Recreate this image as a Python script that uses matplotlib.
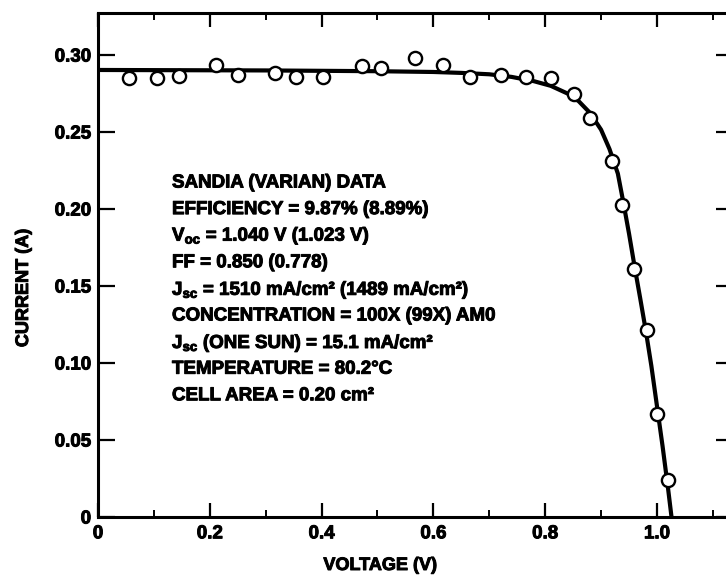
import matplotlib
matplotlib.use("Agg")
import matplotlib.pyplot as plt
import matplotlib.patheffects as pe
from matplotlib.ticker import MultipleLocator

plt.rcParams['font.family'] = ['Liberation Sans', 'DejaVu Sans']
plt.rcParams['font.weight'] = 'bold'
plt.rcParams['mathtext.fontset'] = 'custom'
plt.rcParams['mathtext.rm'] = 'Liberation Sans:bold'
plt.rcParams['mathtext.bf'] = 'Liberation Sans:bold'
plt.rcParams['mathtext.it'] = 'Liberation Sans:bold'
plt.rcParams['mathtext.default'] = 'bf'

# measured data points (voltage V, current A)
meas_v = [0.056, 0.105, 0.145, 0.211, 0.251, 0.317, 0.354, 0.403, 0.472, 0.506,
          0.567, 0.618, 0.665, 0.721, 0.766, 0.810, 0.852, 0.881, 0.919, 0.938,
          0.958, 0.983, 1.000, 1.019]
meas_i = [0.2853, 0.2854, 0.2866, 0.2934, 0.2873, 0.2881, 0.2858, 0.2857, 0.2930, 0.2919,
          0.2981, 0.2936, 0.2860, 0.2870, 0.2860, 0.2854, 0.2745, 0.2589, 0.2314, 0.2028,
          0.1612, 0.1215, 0.0670, 0.0240]

# fitted curve
fit_v = [0.0, 0.3, 0.5, 0.6, 0.65, 0.70, 0.74, 0.78, 0.81, 0.84, 0.86, 0.88, 0.90,
         0.915, 0.93, 0.94, 0.95, 0.96, 0.97, 0.98, 0.99, 1.00, 1.01, 1.02, 1.026]
fit_i = [0.2903, 0.2900, 0.2895, 0.2890, 0.2884, 0.2875, 0.2858, 0.2830, 0.2800, 0.2750,
         0.2700, 0.2625, 0.2515, 0.2390, 0.2230, 0.2040, 0.1840, 0.1625, 0.1420, 0.1210,
         0.0980, 0.0720, 0.0460, 0.0180, 0.0]

x_ticks = [0, 0.2, 0.4, 0.6, 0.8, 1.0]
x_tick_labels = ["0", "0.2", "0.4", "0.6", "0.8", "1.0"]
y_ticks = [0, 0.05, 0.10, 0.15, 0.20, 0.25, 0.30]
y_tick_labels = ["0", "0.05", "0.10", "0.15", "0.20", "0.25", "0.30"]

info_lines = [
    "SANDIA (VARIAN) DATA",
    "EFFICIENCY = 9.87% (8.89%)",
    "V$_{oc}$ = 1.040 V (1.023 V)",
    "FF = 0.850 (0.778)",
    "J$_{sc}$ = 1510 mA/cm² (1489 mA/cm²)",
    "CONCENTRATION = 100X (99X) AM0",
    "J$_{sc}$ (ONE SUN) = 15.1 mA/cm²",
    "TEMPERATURE = 80.2°C",
    "CELL AREA = 0.20 cm²",
]

heavy = [pe.withStroke(linewidth=0.7, foreground='black')]

W, H = 726, 582
fig = plt.figure(figsize=(W / 100, H / 100), dpi=100)
ax = fig.add_axes([98 / W, (H - 517) / H, (733 - 98) / W, (517 - 13) / H])

ax.plot(fit_v, fit_i, color='black', lw=3.0, solid_capstyle='butt', zorder=2)
ax.plot(meas_v, meas_i, linestyle='none', marker='o', ms=9.5, mfc='white',
        mec='black', mew=1.7, zorder=3)

ax.set_xlim(0, 1.136)
ax.set_ylim(0, 0.3273)

ax.xaxis.set_minor_locator(MultipleLocator(0.1))
ax.set_xticks(x_ticks)
ax.set_xticklabels(x_tick_labels)
ax.set_yticks(y_ticks)
ax.set_yticklabels(y_tick_labels)

ax.tick_params(axis='both', which='major', direction='in', top=True, right=True,
               width=1.6, labelsize=13.5, color='black')
ax.tick_params(axis='x', which='major', length=10, pad=6)
ax.tick_params(axis='y', which='major', length=12, pad=5)
ax.tick_params(axis='x', which='minor', direction='in', top=True, length=5, width=1.4)
for lab in ax.get_xticklabels() + ax.get_yticklabels():
    lab.set_path_effects(heavy)
for s in ax.spines.values():
    s.set_linewidth(2.2)

xl = ax.set_xlabel("VOLTAGE (V)", fontsize=13, fontweight='bold')
yl = ax.set_ylabel("CURRENT (A)", fontsize=13, fontweight='bold')
xl.set_path_effects(heavy)
yl.set_path_effects(heavy)
ax.xaxis.set_label_coords((380 - 98) / (733 - 98), -(557 - 517) / (517 - 13))
ax.yaxis.set_label_coords(-(98 - 32) / (733 - 98), (517 - 288) / (517 - 13))

y0 = 183
dy = 26.6
for k, line in enumerate(info_lines):
    t = fig.text(172 / W, 1 - (y0 + k * dy) / H, line, fontsize=13.5, fontweight='bold',
                 ha='left', va='center')
    t.set_path_effects(heavy)

fig.savefig("out.png", dpi=100)
